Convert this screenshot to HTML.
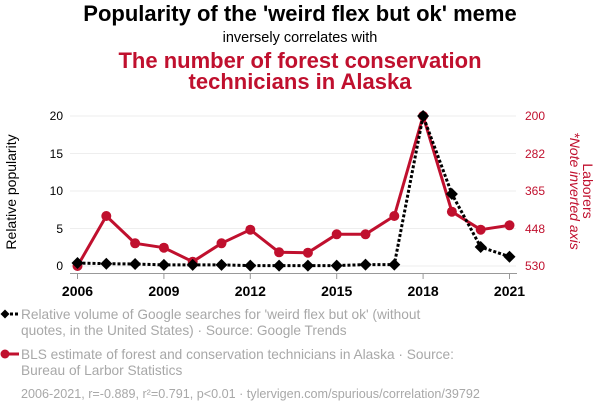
<!DOCTYPE html>
<html><head><meta charset="utf-8"><style>
html,body{margin:0;padding:0;background:#fff;}
body{width:600px;height:414px;overflow:hidden;}
svg{display:block;font-family:"Liberation Sans",Arial,sans-serif;}
</style></head><body>
<svg width="600" height="414" viewBox="0 0 600 414" xmlns="http://www.w3.org/2000/svg">
<text x="300" y="21" text-anchor="middle" font-size="22" font-weight="bold" fill="#000">Popularity of the 'weird flex but ok' meme</text>
<text x="300" y="42" text-anchor="middle" font-size="14.5" fill="#000">inversely correlates with</text>
<text x="300" y="68" text-anchor="middle" font-size="22" font-weight="bold" fill="#c0102e">The number of forest conservation</text>
<text x="300" y="89" text-anchor="middle" font-size="22" font-weight="bold" fill="#c0102e">technicians in Alaska</text>

<g stroke="#eeeeee" stroke-width="1">
<line x1="70" y1="116" x2="516" y2="116"/>
<line x1="70" y1="153.5" x2="516" y2="153.5"/>
<line x1="70" y1="191" x2="516" y2="191"/>
<line x1="70" y1="228.5" x2="516" y2="228.5"/>
<line x1="70" y1="266" x2="516" y2="266"/>
</g>
<line x1="70" y1="273.5" x2="517" y2="273.5" stroke="#999" stroke-width="1"/>
<g stroke="#999" stroke-width="1">
<line x1="77.5" y1="273" x2="77.5" y2="279"/>
<line x1="163.9" y1="273" x2="163.9" y2="279"/>
<line x1="250.3" y1="273" x2="250.3" y2="279"/>
<line x1="336.7" y1="273" x2="336.7" y2="279"/>
<line x1="423.1" y1="273" x2="423.1" y2="279"/>
<line x1="509.5" y1="273" x2="509.5" y2="279"/>
</g>
<g font-size="14" font-weight="bold" fill="#000" text-anchor="middle">
<text x="77.5" y="296">2006</text>
<text x="163.9" y="296">2009</text>
<text x="250.3" y="296">2012</text>
<text x="336.7" y="296">2015</text>
<text x="423.1" y="296">2018</text>
<text x="509.5" y="296">2021</text>
</g>
<g font-size="12" fill="#000" text-anchor="end">
<text x="63" y="120">20</text>
<text x="63" y="158">15</text>
<text x="63" y="195">10</text>
<text x="63" y="233">5</text>
<text x="63" y="270">0</text>
</g>
<g font-size="12" fill="#c0102e" text-anchor="start">
<text x="525" y="120">200</text>
<text x="525" y="158">282</text>
<text x="525" y="195">365</text>
<text x="525" y="233">448</text>
<text x="525" y="270">530</text>
</g>
<text transform="translate(16,192) rotate(-90)" text-anchor="middle" font-size="14" fill="#000">Relative popularity</text>
<text transform="translate(583,191) rotate(90)" text-anchor="middle" font-size="14" fill="#c0102e">Laborers</text>
<text transform="translate(570,191) rotate(90)" text-anchor="middle" font-size="14" font-style="italic" fill="#c0102e">*Note inverted axis</text>

<polyline fill="none" stroke="#c0102e" stroke-width="3" stroke-linejoin="round"
points="77.5,266 106.3,216 135.1,243.3 163.9,247.7 192.7,261.7 221.5,243.3 250.3,229.7 279.1,252.3 307.9,252.7 336.7,234.3 365.5,234.3 394.3,216 423.1,116 451.9,211.7 480.7,229.7 509.5,225.3"/>
<g fill="#c0102e">
<circle cx="77.5" cy="266" r="5"/><circle cx="106.3" cy="216" r="5"/><circle cx="135.1" cy="243.3" r="5"/><circle cx="163.9" cy="247.7" r="5"/><circle cx="192.7" cy="261.7" r="5"/><circle cx="221.5" cy="243.3" r="5"/><circle cx="250.3" cy="229.7" r="5"/><circle cx="279.1" cy="252.3" r="5"/><circle cx="307.9" cy="252.7" r="5"/><circle cx="336.7" cy="234.3" r="5"/><circle cx="365.5" cy="234.3" r="5"/><circle cx="394.3" cy="216" r="5"/><circle cx="423.1" cy="116" r="5"/><circle cx="451.9" cy="211.7" r="5"/><circle cx="480.7" cy="229.7" r="5"/><circle cx="509.5" cy="225.3" r="5"/>
</g>

<polyline fill="none" stroke="#000" stroke-width="3" stroke-dasharray="3,2"
points="77.5,263 106.3,263.7 135.1,264 163.9,264.9 192.7,264.9 221.5,264.9 250.3,265.6 279.1,265.6 307.9,265.6 336.7,265.6 365.5,264.6 394.3,264.6 423.1,116 451.9,194 480.7,247 509.5,256.7"/>
<g fill="#000">
<path d="M77.5,257 l6,6 l-6,6 l-6,-6z"/>
<path d="M106.3,257.7 l6,6 l-6,6 l-6,-6z"/>
<path d="M135.1,258 l6,6 l-6,6 l-6,-6z"/>
<path d="M163.9,258.9 l6,6 l-6,6 l-6,-6z"/>
<path d="M192.7,258.9 l6,6 l-6,6 l-6,-6z"/>
<path d="M221.5,258.9 l6,6 l-6,6 l-6,-6z"/>
<path d="M250.3,259.6 l6,6 l-6,6 l-6,-6z"/>
<path d="M279.1,259.6 l6,6 l-6,6 l-6,-6z"/>
<path d="M307.9,259.6 l6,6 l-6,6 l-6,-6z"/>
<path d="M336.7,259.6 l6,6 l-6,6 l-6,-6z"/>
<path d="M365.5,258.6 l6,6 l-6,6 l-6,-6z"/>
<path d="M394.3,258.6 l6,6 l-6,6 l-6,-6z"/>
<path d="M423.1,110 l6,6 l-6,6 l-6,-6z"/>
<path d="M451.9,188 l6,6 l-6,6 l-6,-6z"/>
<path d="M480.7,241 l6,6 l-6,6 l-6,-6z"/>
<path d="M509.5,250.7 l6,6 l-6,6 l-6,-6z"/>
</g>

<line x1="5" y1="314" x2="19" y2="314" stroke="#000" stroke-width="3" stroke-dasharray="3,2"/>
<path d="M5,309.5 l4.5,4.5 l-4.5,4.5 l-4.5,-4.5z" fill="#000"/>
<line x1="4" y1="354" x2="19" y2="354" stroke="#c0102e" stroke-width="3"/>
<circle cx="5" cy="354" r="4.5" fill="#c0102e"/>
<g font-size="13.7" fill="#a8a8a8">
<text x="21" y="319">Relative volume of Google searches for 'weird flex but ok' (without</text>
<text x="21" y="335">quotes, in the United States) · Source: Google Trends</text>
<text x="21" y="359">BLS estimate of forest and conservation technicians in Alaska · Source:</text>
<text x="21" y="375">Bureau of Larbor Statistics</text>
</g>
<text x="21" y="398" font-size="12.6" fill="#a8a8a8">2006-2021, r=-0.889, r²=0.791, p&lt;0.01 · tylervigen.com/spurious/correlation/39792</text>
</svg>
</body></html>
